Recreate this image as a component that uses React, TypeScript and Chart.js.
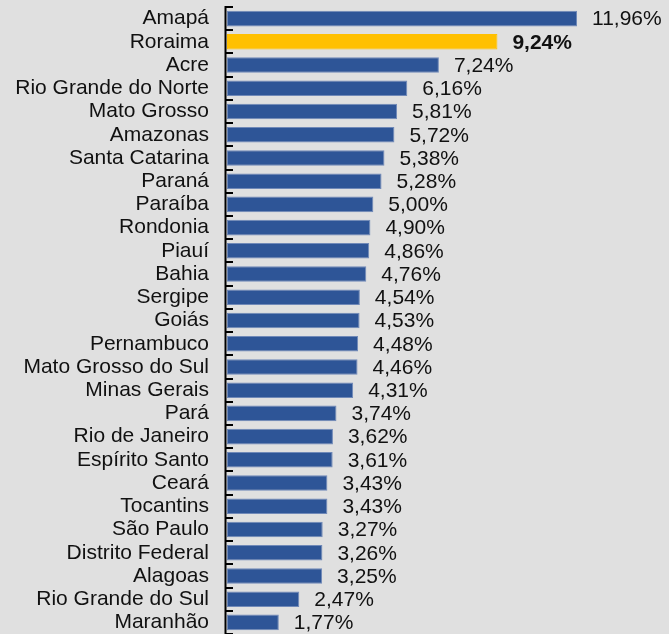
import React, { useEffect, useRef } from "react";
import { Chart, registerables } from "chart.js";

Chart.register(...registerables);

const states: string[] = [
  "Amapá", "Roraima", "Acre", "Rio Grande do Norte", "Mato Grosso", "Amazonas",
  "Santa Catarina", "Paraná", "Paraíba", "Rondonia", "Piauí", "Bahia", "Sergipe",
  "Goiás", "Pernambuco", "Mato Grosso do Sul", "Minas Gerais", "Pará",
  "Rio de Janeiro", "Espírito Santo", "Ceará", "Tocantins", "São Paulo",
  "Distrito Federal", "Alagoas", "Rio Grande do Sul", "Maranhão",
];

const values: number[] = [
  11.96, 9.24, 7.24, 6.16, 5.81, 5.72, 5.38, 5.28, 5.0, 4.9, 4.86, 4.76, 4.54,
  4.53, 4.48, 4.46, 4.31, 3.74, 3.62, 3.61, 3.43, 3.43, 3.27, 3.26, 3.25, 2.47, 1.77,
];

const highlighted = "Roraima";

const BG = "#e0e0e0";
const BLUE = "#2e5597";
const BLUE_BORDER = "#7089b8";
const YELLOW = "#ffc000";
const FONT = "'Liberation Sans', Arial, sans-serif";

const fmt = (v: number) => v.toFixed(2).replace(".", ",") + "%";

export default function App() {
  const ref = useRef<HTMLCanvasElement | null>(null);

  useEffect(() => {
    if (!ref.current) return;
    const decor = {
      id: "decor",
      afterDraw(chart: any) {
        const { ctx, chartArea } = chart;
        const { left, top, bottom } = chartArea;
        ctx.save();
        ctx.strokeStyle = "#000";
        ctx.lineWidth = 2;
        ctx.beginPath();
        ctx.moveTo(left - 1.5, top - 1);
        ctx.lineTo(left - 1.5, bottom);
        const n = states.length;
        const step = (bottom - top) / n;
        for (let i = 0; i <= n; i++) {
          const y = Math.round(top + i * step);
          ctx.moveTo(left - 2.5, y);
          ctx.lineTo(left + 6, y);
        }
        ctx.stroke();
        const meta = chart.getDatasetMeta(0);
        meta.data.forEach((bar: any, i: number) => {
          const bold = states[i] === highlighted;
          ctx.font = `${bold ? "bold " : ""}21px ${FONT}`;
          ctx.fillStyle = "#111";
          ctx.textAlign = "left";
          ctx.textBaseline = "middle";
          ctx.fillText(fmt(values[i]), bar.x + 15, bar.y + 1);
        });
        ctx.restore();
      },
    };
    const chart = new Chart(ref.current, {
      type: "bar",
      data: {
        labels: states,
        datasets: [
          {
            data: values,
            backgroundColor: states.map((s) => (s === highlighted ? YELLOW : BLUE)),
            borderColor: states.map((s) => (s === highlighted ? YELLOW : BLUE_BORDER)),
            borderWidth: 1,
            borderSkipped: false,
            barPercentage: 0.67,
            categoryPercentage: 1,
          },
        ],
      },
      options: {
        indexAxis: "y",
        animation: false,
        responsive: false,
        layout: { padding: { top: 7, right: 3, bottom: 0, left: 0 } },
        plugins: { legend: { display: false }, tooltip: { enabled: false } },
        scales: {
          x: { display: false, min: 0, max: 15 },
          y: {
            afterFit: (scale: any) => {
              scale.width = 227;
              scale.paddingTop = 0;
              scale.paddingBottom = 0;
            },
            grid: { display: false, drawTicks: false },
            border: { display: false },
            ticks: {
              autoSkip: false,
              padding: 18,
              color: "#111",
              font: { size: 21, family: FONT },
            },
          },
        },
      },
      plugins: [decor],
    });
    return () => chart.destroy();
  }, []);

  return (
    <div style={{ position: "absolute", left: 0, top: 0, width: 669, height: 634, background: BG }}>
      <canvas ref={ref} width={669} height={634} style={{ display: "block" }} />
    </div>
  );
}
